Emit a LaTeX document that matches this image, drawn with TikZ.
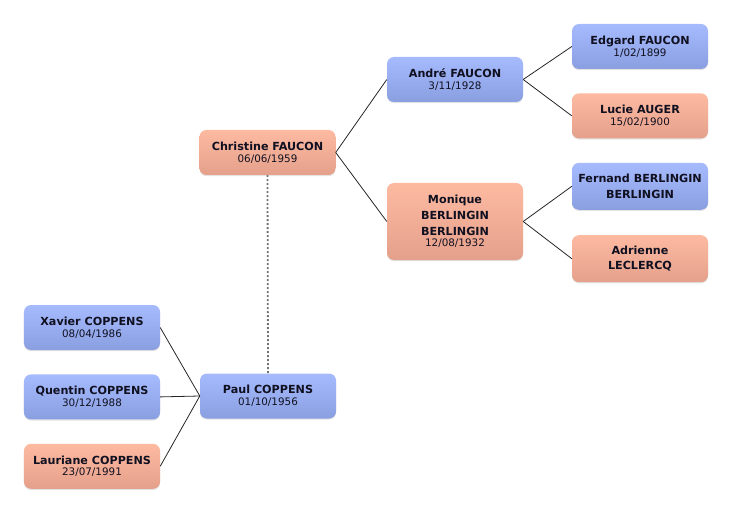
\documentclass[tikz,border=0pt]{standalone}
\usepackage{fontspec}
\setmainfont{DejaVu Sans}
\usetikzlibrary{positioning, shadows}

\definecolor{bleuhaut}{HTML}{A6BBFE}
\definecolor{bleubas}{HTML}{8A9FE0}
\definecolor{roseHaut}{HTML}{FDBAA1}
\definecolor{roseBas}{HTML}{E5A08B}
\definecolor{encre}{HTML}{101020}

\newcommand{\naiss}[1]{{\fontsize{10.4}{12}\selectfont\mdseries #1}}

\begin{document}
\begin{tikzpicture}[x=1bp, y=-1bp, node distance=24bp,
    person/.style={rectangle, rounded corners=7bp, minimum width=136bp, minimum height=45bp,
        align=center, text=encre, inner sep=3bp,
        font=\fontsize{11.2}{15.8}\selectfont\bfseries,
        drop shadow={shadow xshift=0bp, shadow yshift=-1.2bp, opacity=.22}},
    male/.style={person, top color=bleuhaut, bottom color=bleubas},
    female/.style={person, top color=roseHaut, bottom color=roseBas},
    lien/.style={draw=black!85, line width=0.8bp},
    couple/.style={draw=black!55, line width=1.8bp, dash pattern=on 2bp off 2bp}]
        \useasboundingbox (0,0) rectangle (732,512);
        % Arbre de Christine FAUCON et Paul COPPENS
        \node[female] (christine) at (267.5,152.5) {Christine FAUCON\\[-4bp]\naiss{06/06/1959}};
        \node[male] (andre) at (455,79.5) {André FAUCON\\[-4bp]\naiss{3/11/1928}};
        \node[female, minimum height=77bp] (monique) at (455,221.5) {Monique\\BERLINGIN\\BERLINGIN\\[-4bp]\naiss{12/08/1932}};
        \node[male] (edgard) at (640,46.5) {Edgard FAUCON\\[-4bp]\naiss{1/02/1899}};
        \node[female, below=of edgard] (lucie) {Lucie AUGER\\[-4bp]\naiss{15/02/1900}};
        \node[male, minimum height=47bp, below=of lucie] (fernand) {Fernand BERLINGIN\\BERLINGIN};
        \node[female, minimum height=47bp, below=25bp of fernand] (adrienne) {Adrienne\\LECLERCQ};
        \node[male] (paul) at (268,396) {Paul COPPENS\\[-4bp]\naiss{01/10/1956}};
        \node[male] (xavier) at (92,327.5) {Xavier COPPENS\\[-4bp]\naiss{08/04/1986}};
        \node[male, below=of xavier] (quentin) {Quentin COPPENS\\[-4bp]\naiss{30/12/1988}};
        \node[female, below=of quentin] (lauriane) {Lauriane COPPENS\\[-4bp]\naiss{23/07/1991}};

        \draw[lien] (christine.east) -- (andre.west);
        \draw[lien] (christine.east) -- (monique.west);
        \draw[lien] (andre.east) -- (edgard.west);
        \draw[lien] (andre.east) -- (lucie.west);
        \draw[lien] (monique.east) -- (fernand.west);
        \draw[lien] (monique.east) -- (adrienne.west);
        \draw[lien] (paul.west) -- (xavier.east);
        \draw[lien] (paul.west) -- (quentin.east);
        \draw[lien] (paul.west) -- (lauriane.east);
        \draw[couple] (christine.south) -- (paul.north);
    \end{tikzpicture}
\end{document}
